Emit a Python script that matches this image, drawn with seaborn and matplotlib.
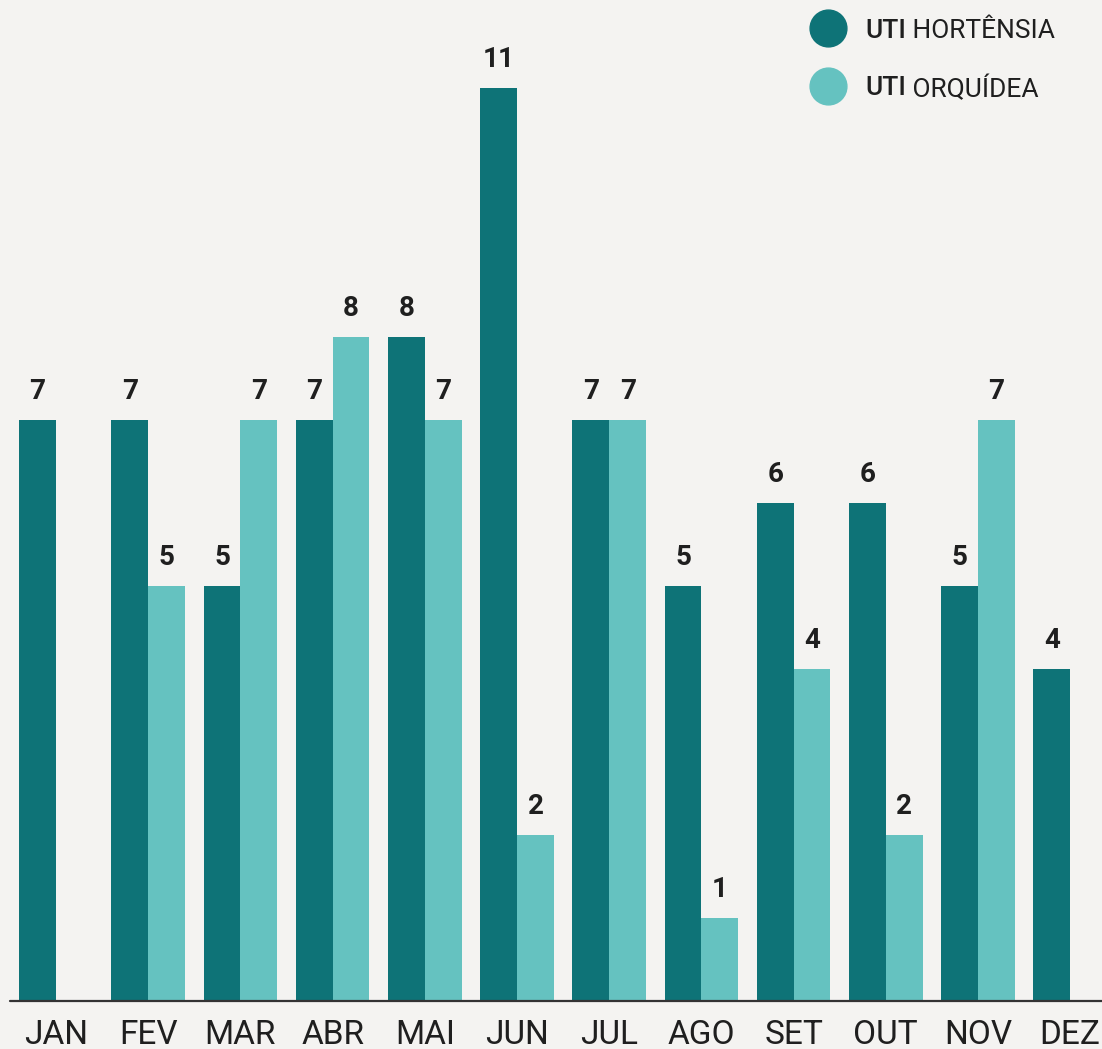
import pandas as pd
import numpy as np
import matplotlib
matplotlib.use("Agg")
import matplotlib.pyplot as plt
from matplotlib.lines import Line2D
import seaborn as sns

# data
months = ["JAN", "FEV", "MAR", "ABR", "MAI", "JUN", "JUL", "AGO", "SET", "OUT", "NOV", "DEZ"]
hortensia = [7, 7, 5, 7, 8, 11, 7, 5, 6, 6, 5, 4]
orquidea = [None, 5, 7, 8, 7, 2, 7, 1, 4, 2, 7, None]
units = ["UTI HORTÊNSIA", "UTI ORQUÍDEA"]
colors = ["#0e7377", "#65c2c0"]

bg = "#f4f3f1"
ink = "#1f1f1f"

sns.set_style("white")
plt.rcParams["font.family"] = ["Roboto", "DejaVu Sans"]

df = pd.DataFrame({
    "mes": months * 2,
    "valor": hortensia + orquidea,
    "uti": [units[0]] * len(months) + [units[1]] * len(months),
})
df = df.dropna()

W, H = 1102, 1049
fig = plt.figure(figsize=(W / 100, H / 100), dpi=100, facecolor=bg)
ax = fig.add_axes([0, 48 / H, 1, 913 / H], facecolor=bg)

sns.barplot(data=df, x="mes", y="valor", hue="uti", order=months, hue_order=units,
            palette=colors, saturation=1, errorbar=None, width=0.8, linewidth=0,
            ax=ax, legend=False)

ax.set_ylim(0, 11)
step = 92.2
left = -56 / step
ax.set_xlim(left, left + W / step)

for c in ax.containers:
    labels = [f"{b.get_height():.0f}" if b.get_height() > 0 else "" for b in c]
    ax.bar_label(c, labels=labels, padding=11, fontsize=20, fontweight="bold", color=ink)

for s in ax.spines.values():
    s.set_visible(False)
ax.axhline(0, xmin=10 / W, xmax=1, color="#333333", lw=1.6, clip_on=False)

ax.set_xlabel("")
ax.set_ylabel("")
ax.set_yticks([])
ax.tick_params(axis="x", length=0, pad=13, labelsize=24, labelcolor=ink)

# legend drawn by hand: circle + medium "UTI" + regular name
legend_texts = []
for i, (name, col) in enumerate(zip(units, colors)):
    y = 1 - (28 + 58 * i) / H
    fig.add_artist(Line2D([828 / W], [y], marker="o", ms=26.5, color=col,
                          transform=fig.transFigure))
    first, rest = name.split(" ", 1)
    t1 = fig.text(865 / W, y, first, fontsize=19, fontweight="medium", color=ink,
                  va="center_baseline", ha="left")
    t2 = fig.text(865 / W, y, " " + rest, fontsize=19, color=ink,
                  va="center_baseline", ha="left")
    legend_texts.append((t1, t2))

# place the regular part right after the first word
fig.canvas.draw()
for t1, t2 in legend_texts:
    bb = t1.get_window_extent()
    x0 = fig.transFigure.inverted().transform((bb.x1, 0))[0]
    t2.set_position((x0, t1.get_position()[1]))

fig.savefig("out.png", dpi=100, facecolor=bg)
